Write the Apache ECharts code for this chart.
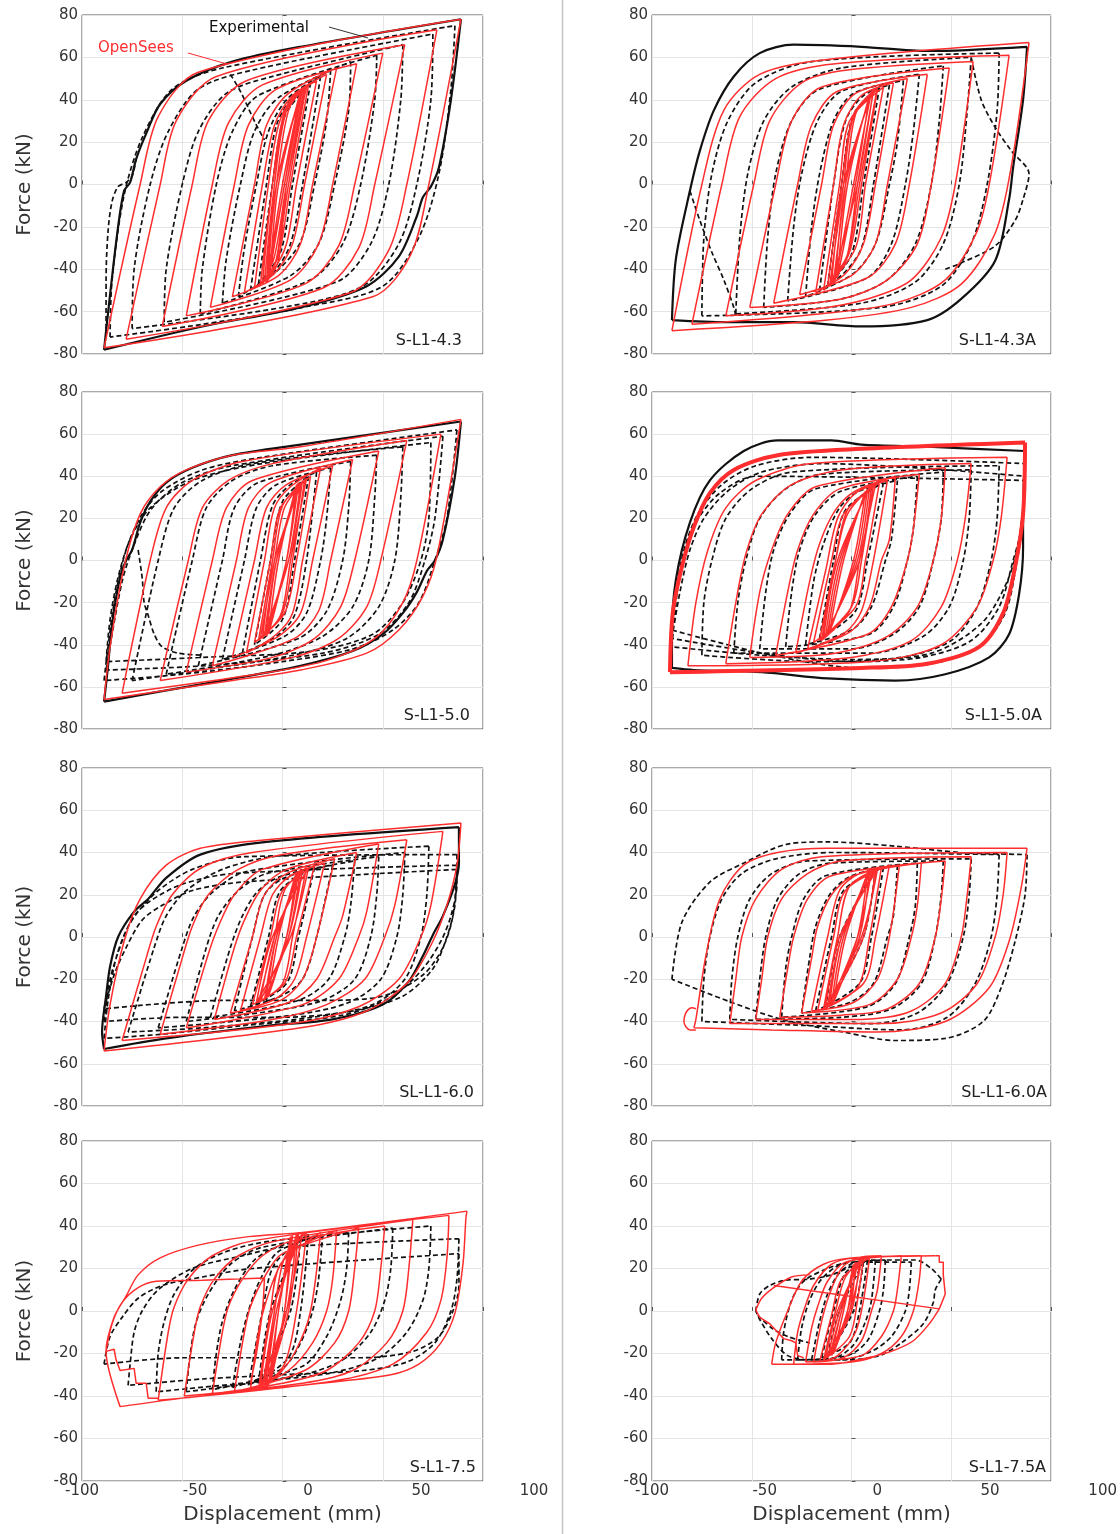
<!DOCTYPE html>
<html>
<head>
<meta charset="utf-8">
<script src="https://cdn.jsdelivr.net/npm/echarts@6/dist/echarts.min.js"></script>
<style>
html, body { margin: 0; padding: 0; background: #fff; }
#main { width: 1120px; height: 1534px; }
</style>
</head>
<body>
<div id="main"></div>
<script>
// panel titles, row by row (left, right)
const panelNames = ['S-L1-4.3', 'S-L1-4.3A', 'S-L1-5.0', 'S-L1-5.0A', 'SL-L1-6.0', 'SL-L1-6.0A', 'S-L1-7.5', 'S-L1-7.5A'];
const legendTexts = ['Experimental', 'OpenSees'];

// loops are [x (mm), F (kN)], starting at the left tip
// ---- S-L1-4.3
const p1Red = [
  [[-89,-77],[-71,0],[-62,32],[-42,53],[89,78],[73,0],[64,-33],[45,-53]],
  [[-78,-73],[-61,0],[-53,30],[-33,51],[77,73],[62,0],[53,-31],[34,-51]],
  [[-60,-67],[-45,0],[-37,30],[-18,49],[61,66],[46,0],[38,-30],[20,-49]],
  [[-48,-62],[-35,0],[-27,29],[-10,47],[50,62],[36,0],[28,-29],[11,-47]],
  [[-36,-58],[-24,0],[-17,28],[-3,45],[37,57],[25,0],[18,-28],[4,-45]],
  [[-25,-53],[-14,0],[-8,28],[3,43],[27,55],[15,0],[9,-28],[-2,-43]],
  [[-19,-51],[-10,0],[-4,28],[5,42],[22,52],[11,0],[5,-28],[-4,-42]],
  [[-14,-49],[-7,0],[-2,28],[5,41],[17,49],[7,0],[2,-28],[-5,-41]],
  [[-11,-47],[-5,0],[0,30],[5,40],[13,47],[4,0],[-1,-30],[-5,-40]],
  [[-10,-47],[-5,0],[1,34],[12,47],[2,0],[-4,-34]],
  [[-9,-46],[-4,0],[2,35],[12,47],[3,0],[-3,-35]],
  [[-8,-45],[-3,0],[3,35],[11,46],[2,0],[-3,-35]],
  [[-8,-46],[-4,0],[2,36],[12,46],[2,0],[-2,-36]],
  [[-7,-44],[-3,0],[10,45],[1,0]],
  [[-7,-42],[-3,0],[9,43],[0,0]],
  [[-6,-40],[-2,0],[9,44],[1,0]]
];
const p1ExpOuter = [[-89,-78],[-86,-52],[-82,-20],[-79,-3],[-76,1],[-73,12],[-68,24],[-61,38],[-48,49],[-25,58],[9,65],[89,78],[84,40],[78,8],[74,-1],[70,-6],[67,-15],[58,-34],[42,-48],[9,-58],[-40,-67]];
const p1Exp = [
  [[-86,-72],[-85,-45],[-79,-5],[-70,22],[-55,45],[-30,55],[86,75],[84,45],[78,5],[68,-25],[50,-48],[10,-58],[-40,-66]],
  [[-75,-68],[-74,-40],[-66,0],[-57,25],[-42,45],[-15,54],[75,71],[74,40],[67,0],[58,-28],[40,-48],[0,-58]],
  [[-59,-65],[-58,-40],[-50,0],[-42,25],[-28,43],[-5,51],[60,66],[59,40],[53,0],[44,-28],[27,-46]],
  [[-41,-61],[-40,-40],[-33,0],[-25,25],[-12,42],[47,61],[46,40],[39,0],[30,-28],[14,-45]],
  [[-30,-56],[-28,-35],[-21,0],[-14,25],[-2,41],[34,58],[33,35],[26,0],[18,-28],[4,-43]],
  [[-22,-53],[-19,-30],[-13,0],[-7,25],[3,41],[24,54],[22,30],[16,0],[9,-27],[-3,-41]],
  [[-16,-50],[-8,0],[-3,28],[5,41],[19,51],[10,0],[4,-28],[-4,-41]],
  [[-12,-47],[-5,0],[1,32],[14,48],[5,0],[-1,-32]]
];
const p1ExpCurves = [
  [[-88,-72],[-88,-45],[-87,-22],[-85,-8],[-82,-1],[-78,1],[-75,4],[-73,12]],
  [[-26,52],[-21,44],[-17,36],[-13,28],[-9,21]]
];

// ---- S-L1-4.3A
const p2Red = [
  [[-90,-69],[-75,0],[-64,35],[-46,52],[-12,59],[89,67],[80,8],[72,-23],[55,-47],[30,-58],[-12,-64]],
  [[-80,-66],[-65,0],[-56,32],[-38,50],[-8,57],[79,61],[70,5],[63,-22],[47,-45],[22,-56],[-15,-61]],
  [[-63,-62],[-49,0],[-41,30],[-25,48],[-2,54],[61,58],[52,0],[45,-25],[30,-45],[8,-54],[-20,-59]],
  [[-51,-58],[-38,0],[-30,30],[-15,46],[49,55],[40,0],[33,-28],[18,-45],[-5,-54]],
  [[-39,-56],[-27,0],[-20,28],[-7,44],[38,52],[29,0],[22,-28],[8,-44]],
  [[-26,-52],[-15,0],[-9,28],[2,43],[28,50],[18,0],[12,-28],[0,-43]],
  [[-18,-51],[-9,0],[-4,28],[5,42],[21,48],[12,0],[6,-28],[-3,-42]],
  [[-14,-50],[-6,0],[-1,30],[16,46],[7,0],[2,-30]],
  [[-12,-48],[-5,0],[1,33],[13,46],[4,0],[-2,-33]],
  [[-11,-48],[-4,0],[1,32],[13,45],[5,0],[-1,-32]],
  [[-10,-47],[-4,0],[11,45],[3,0]],
  [[-9,-46],[-3,0],[2,33],[11,44],[3,0],[-2,-33]],
  [[-8,-45],[-3,0],[10,44],[1,0]],
  [[-7,-44],[-2,0],[9,42],[2,0]]
];
const p2ExpOuter = [[-90,-64],[-88,-35],[-81,-3],[-76,16],[-69,35],[-59,51],[-46,62],[-29,66],[5,65],[38,63],[88,65],[86,40],[81,8],[79,-7],[72,-36],[55,-54],[38,-64],[5,-67],[-29,-65],[-63,-65]];
const p2Exp = [
  [[-75,-62],[-74,-25],[-70,5],[-62,30],[-48,48],[-20,58],[74,62],[73,35],[68,0],[60,-28],[45,-48],[15,-58]],
  [[-58,-61],[-56,-25],[-52,5],[-44,30],[-30,46],[-5,55],[60,60],[58,35],[54,0],[46,-28],[32,-46],[5,-56]],
  [[-44,-58],[-42,-25],[-38,5],[-30,30],[-16,45],[46,56],[44,30],[40,0],[32,-28],[18,-45],[-5,-54]],
  [[-32,-55],[-29,-20],[-25,5],[-17,30],[-5,44],[34,52],[31,25],[27,0],[20,-28],[8,-44]],
  [[-23,-53],[-20,-20],[-16,5],[-9,30],[1,43],[26,49],[23,20],[19,0],[12,-28],[1,-42]],
  [[-16,-50],[-9,0],[-3,30],[6,42],[19,47],[11,0],[5,-30],[-4,-42]],
  [[-12,-48],[-5,0],[1,33],[14,46],[6,0],[0,-33]]
];
const p2ExpCurves = [
  [[-81,-3],[-76,-17],[-70,-32],[-64,-45],[-59,-58],[-58,-62]],
  [[60,60],[65,40],[72,27],[80,16],[89,5],[86,-7],[82,-17],[72,-29],[55,-37],[47,-40]]
];

// ---- S-L1-5.0
const p3Red = [
  [[-89,-66],[-86,-41],[-79,-3],[-71,22],[-61,35],[-48,43],[-25,50],[9,54],[89,67],[77,2],[70,-17],[58,-33],[42,-44],[9,-52],[-25,-57]],
  [[-80,-63],[-66,0],[-58,25],[-45,38],[-20,47],[79,60],[67,0],[60,-20],[46,-37],[20,-48],[-20,-55]],
  [[-61,-57],[-47,0],[-40,25],[-27,38],[-5,46],[62,57],[49,0],[42,-22],[28,-37],[5,-46]],
  [[-48,-53],[-35,0],[-28,25],[-15,38],[48,52],[36,0],[29,-22],[16,-37],[-5,-46]],
  [[-35,-50],[-23,0],[-17,25],[-6,37],[35,48],[24,0],[18,-24],[6,-37]],
  [[-25,-46],[-14,0],[-8,25],[2,36],[25,45],[15,0],[9,-25],[-2,-36]],
  [[-18,-44],[-9,0],[-4,25],[4,35],[19,44],[10,0],[5,-25],[-3,-35]],
  [[-14,-39],[-6,0],[-1,25],[14,40],[7,0],[1,-25]],
  [[-12,-38],[-5,0],[0,26],[12,39],[4,0],[-1,-26]],
  [[-11,-37],[-4,0],[1,25],[11,38],[5,0],[0,-25]],
  [[-10,-37],[-4,0],[10,38],[3,0]],
  [[-9,-36],[-3,0],[9,37],[3,0]],
  [[-8,-36],[-3,0],[8,37],[2,0]],
  [[-7,-35],[-2,0],[7,36],[2,0]]
];
const p3ExpOuter = [[-89,-67],[-87,-50],[-85,-30],[-81,-8],[-78,0],[-75,5],[-71,18],[-66,28],[-58,37],[-45,44],[-25,50],[9,55],[89,66],[86,40],[80,10],[76,0],[72,-5],[67,-15],[60,-25],[50,-35],[35,-43],[9,-50],[-30,-57],[-60,-62]];
const p3Exp = [
  [[-89,-57],[-84,-20],[-78,5],[-70,22],[-60,33],[-40,43],[-10,49],[87,62],[82,20],[76,0],[68,-20],[55,-33],[35,-42],[0,-48],[-50,-54]],
  [[-88,-52],[-80,-10],[-73,10],[-65,25],[-50,37],[-25,45],[80,59],[76,20],[71,0],[63,-20],[48,-35],[20,-44],[-40,-50]],
  [[-88,-48],[-86,-28],[-82,-8],[-76,10],[-66,25],[-45,38],[-10,46],[74,56],[73,20],[69,0],[60,-20],[45,-35],[15,-43],[-40,-46]],
  [[-75,-57],[-62,0],[-54,25],[-40,38],[-15,46],[60,54],[59,30],[56,0],[48,-22],[32,-37],[5,-45],[-40,-52]],
  [[-58,-54],[-45,0],[-38,25],[-25,38],[-5,45],[47,50],[46,30],[43,0],[35,-22],[20,-36],[-5,-45]],
  [[-42,-50],[-30,0],[-24,25],[-12,37],[34,47],[33,25],[30,0],[22,-24],[8,-37]],
  [[-30,-47],[-19,0],[-13,25],[-3,36],[24,44],[22,20],[19,0],[12,-25],[1,-36]],
  [[-20,-44],[-11,0],[-5,26],[4,36],[17,42],[12,0],[6,-26],[-3,-36]],
  [[-14,-40],[-6,0],[0,28],[13,40],[6,0],[0,-28]]
];
const p3ExpCurves = [
  [[-72,5],[-70,-8],[-69,-20],[-67,-26],[-64,-35],[-60,-41],[-52,-44],[-40,-45]]
];

// ---- S-L1-5.0A
const p4RedOuter = [[-91,-53],[-89.6,-25],[-85,-3],[-79,16],[-71,32],[-59,43],[-37,50],[5,53],[87,56],[86,22],[82,-3],[76,-25],[64,-41],[38,-49],[5,-51]];
const p4Red = [
  [[-82,-50],[-78,-20],[-72,5],[-63,25],[-48,38],[-20,46],[78,49],[75,20],[71,0],[63,-22],[45,-40],[10,-48]],
  [[-63,-49],[-58,-20],[-53,3],[-45,22],[-30,36],[-5,43],[60,46],[57,20],[53,0],[45,-22],[30,-38],[0,-46]],
  [[-51,-46],[-46,-15],[-40,5],[-32,22],[-18,35],[47,44],[45,20],[41,0],[33,-22],[18,-36],[-8,-44]],
  [[-38,-45],[-32,-15],[-27,5],[-19,22],[-6,34],[34,41],[31,15],[28,0],[20,-22],[8,-35]],
  [[-28,-44],[-21,-10],[-16,8],[-8,24],[2,33],[22,40],[19,10],[15,0],[9,-22],[-1,-34]],
  [[-22,-42],[-13,-5],[-7,20],[2,32],[18,38],[11,0],[5,-24],[-3,-34]],
  [[-19,-39],[-10,0],[-4,22],[14,37],[7,0],[2,-22]],
  [[-16,-38],[-8,0],[-2,22],[11,36],[5,0],[0,-22]],
  [[-15,-38],[-8,0],[-2,24],[12,36],[4,0],[-1,-24]],
  [[-14,-37],[-7,0],[10,36],[4,0]],
  [[-13,-36],[-6,0],[9,35],[3,0]],
  [[-12,-35],[-5,0],[8,34],[2,0]],
  [[-11,-34],[-4,0],[7,33],[1,0]]
];
const p4ExpOuter = [[-90,-51],[-90,-35],[-88,-9],[-81,18],[-71,38],[-54,52],[-37,57],[-10,57],[5,55],[38,54],[87,52],[86,20],[86,6],[84,-16],[79,-35],[69,-46],[47,-54],[22,-57],[-12,-56],[-45,-53],[-79,-52]];
const p4Exp = [
  [[-90,-33],[-88,-15],[-84,5],[-77,22],[-65,36],[-48,45],[-20,49],[87,46],[86,20],[83,0],[77,-25],[64,-41],[40,-49],[5,-51],[-40,-45]],
  [[-90,-37],[-86,-15],[-81,5],[-74,20],[-62,33],[-45,42],[-15,46],[87,40],[85,15],[81,0],[74,-22],[60,-38],[35,-46],[0,-48],[-45,-44]],
  [[-90,-41],[-88,-20],[-85,0],[-78,18],[-66,32],[-48,40],[87,38],[84,10],[78,-10],[65,-30],[40,-44],[0,-47],[-45,-45]],
  [[-75,-45],[-74,-20],[-70,0],[-63,20],[-50,34],[-30,42],[74,45],[73,20],[70,0],[63,-22],[50,-38],[25,-46],[-20,-48]],
  [[-59,-44],[-57,-20],[-53,0],[-46,20],[-33,34],[-15,41],[60,43],[59,20],[56,0],[49,-22],[36,-36],[10,-44]],
  [[-46,-42],[-43,-15],[-39,5],[-31,22],[-18,34],[46,42],[45,20],[41,0],[34,-22],[21,-35],[0,-42]],
  [[-33,-41],[-30,-15],[-26,5],[-18,22],[-5,33],[33,40],[31,15],[28,0],[21,-22],[9,-35]],
  [[-23,-40],[-19,-10],[-14,8],[-6,25],[4,33],[23,38],[20,10],[17,0],[10,-22],[0,-33]],
  [[-16,-37],[-9,0],[-3,24],[16,37],[8,0],[2,-24]]
];

// ---- SL-L1-6.0
const p5Red = [
  [[-89,-54],[-86,-32],[-79,-2],[-71,18],[-58,34],[-41,42],[-8,46],[89,54],[87,34],[82,15],[75,-2],[63,-21],[42,-35],[9,-43]],
  [[-80,-49],[-68,-10],[-63,5],[-55,20],[-40,33],[-15,40],[80,50],[74,15],[69,0],[58,-20],[38,-33],[5,-41]],
  [[-61,-46],[-50,-10],[-45,5],[-37,20],[-22,32],[0,39],[62,46],[56,15],[51,0],[41,-20],[22,-32],[-5,-39]],
  [[-48,-43],[-37,-8],[-32,5],[-24,20],[-10,32],[48,44],[42,12],[38,0],[28,-20],[10,-32]],
  [[-34,-39],[-24,-5],[-19,8],[-11,22],[2,32],[37,40],[30,10],[26,0],[17,-20],[3,-31]],
  [[-26,-36],[-15,0],[-9,20],[2,30],[26,37],[17,0],[10,-20],[-1,-30]],
  [[-21,-35],[-11,0],[-5,20],[4,29],[21,35],[12,0],[6,-20],[-3,-29]],
  [[-15,-32],[-6,0],[0,22],[16,34],[7,0],[1,-22]],
  [[-13,-31],[-5,0],[13,33],[4,0]],
  [[-12,-31],[-4,0],[1,22],[12,33],[5,0],[0,-22]],
  [[-11,-30],[-4,0],[10,32],[3,0]],
  [[-9,-30],[-3,0],[9,32],[3,0]],
  [[-8,-29],[-3,0],[8,31],[2,0]],
  [[-7,-28],[-2,0],[7,31],[2,0]]
];
const p5ExpOuter = [[-89,-53],[-90,-45],[-88,-28],[-86,-14],[-82,0],[-74,12],[-67,18],[-58,28],[-41,39],[-8,45],[88,52],[88,35],[86,25],[80,10],[75,1],[70,-9],[63,-21],[50,-32],[25,-39],[-8,-42],[-58,-48]];
const p5Exp = [
  [[-89,-48],[-87,-30],[-83,-10],[-78,3],[-72,12],[-62,22],[-45,32],[-20,38],[87,39],[87,25],[84,10],[79,-2],[70,-15],[55,-28],[30,-37],[-20,-42],[-60,-46]],
  [[-89,-40],[-86,-20],[-80,-2],[-74,10],[-66,17],[-50,25],[-25,30],[87,34],[86,15],[82,0],[75,-15],[60,-28],[35,-35],[0,-38],[-50,-38]],
  [[-89,-34],[-84,-18],[-78,-5],[-70,8],[-60,15],[-45,22],[-20,26],[87,32],[85,10],[80,-5],[70,-18],[50,-28],[20,-30],[-30,-30]],
  [[-77,-45],[-64,-5],[-58,10],[-48,22],[-30,32],[-5,38],[73,43],[72,20],[69,0],[61,-20],[45,-32],[15,-38],[-40,-43]],
  [[-62,-43],[-50,-5],[-44,10],[-34,22],[-18,31],[61,40],[60,20],[57,0],[49,-20],[33,-31],[5,-37]],
  [[-48,-40],[-38,-5],[-32,10],[-22,22],[-8,30],[48,38],[47,20],[44,0],[36,-20],[20,-30],[-5,-35]],
  [[-36,-38],[-26,-5],[-20,10],[-12,22],[0,29],[36,36],[34,15],[31,0],[23,-20],[8,-30]],
  [[-24,-35],[-15,0],[-9,20],[1,28],[25,34],[17,0],[10,-20],[-1,-28]],
  [[-16,-33],[-7,0],[-1,22],[16,33],[8,0],[2,-22]]
];

// ---- SL-L1-6.0A
const p6Red = [
  [[-79,-43],[-78,-39],[-73,-9],[-66,18],[-54,34],[-37,40],[-12,42],[88,42],[85,23],[79,-2],[69,-24],[47,-40],[13,-45],[-40,-44]],
  [[-61,-41],[-58,-20],[-55,0],[-48,18],[-35,32],[-15,38],[78,40],[76,20],[72,0],[63,-22],[45,-36],[15,-41]],
  [[-48,-39],[-45,-20],[-42,0],[-35,18],[-22,30],[-5,36],[60,38],[58,20],[55,0],[47,-22],[30,-35],[5,-39]],
  [[-36,-38],[-32,-15],[-29,0],[-22,18],[-10,29],[47,36],[45,18],[42,0],[34,-22],[18,-34],[-5,-37]],
  [[-25,-36],[-20,-10],[-17,5],[-10,20],[1,29],[35,35],[33,15],[30,0],[23,-20],[9,-32]],
  [[-20,-35],[-12,0],[-6,22],[4,30],[24,34],[19,0],[13,-20],[1,-31]],
  [[-17,-35],[-9,0],[-3,22],[19,34],[12,0],[6,-22]],
  [[-14,-34],[-7,0],[-1,24],[15,33],[9,0],[3,-24]],
  [[-13,-33],[-6,0],[13,32],[5,0]],
  [[-12,-33],[-5,0],[12,32],[6,0]],
  [[-11,-32],[-5,0],[10,31],[3,0]],
  [[-10,-32],[-4,0],[9,31],[4,0]],
  [[-9,-31],[-3,0],[8,30],[3,0]]
];
const p6RedCurves = [
  [[-78,-44],[-81,-44],[-83,-42.5],[-84,-40],[-83.5,-37],[-82,-34.5],[-80,-33.5],[-78,-34]]
];
const p6Exp = [
  [[-90,-20],[-85,7],[-71,26],[-54,35],[-32,44],[-12,45],[22,43],[55,40],[88,39],[87,20],[82,-2],[75,-24],[66,-40],[47,-48],[22,-49],[-4,-45],[-35,-39],[-60,-31]],
  [[-75,-40],[-74,-20],[-71,0],[-65,18],[-55,30],[-38,37],[-10,40],[74,39],[73,20],[70,0],[62,-22],[48,-38],[25,-44],[-20,-42]],
  [[-61,-39],[-60,-20],[-57,0],[-51,18],[-40,30],[-22,36],[60,37],[59,20],[56,0],[48,-22],[33,-36],[10,-41]],
  [[-48,-39],[-46,-20],[-43,0],[-37,18],[-26,30],[-10,35],[46,36],[45,20],[42,0],[35,-22],[20,-34],[-5,-38]],
  [[-35,-38],[-33,-15],[-30,0],[-24,18],[-13,29],[33,35],[32,15],[29,0],[22,-22],[8,-33]],
  [[-25,-36],[-21,-10],[-18,5],[-11,20],[0,29],[23,34],[21,10],[18,0],[11,-22],[-1,-31]],
  [[-18,-35],[-10,0],[-4,22],[16,33],[10,0],[4,-22]],
  [[-13,-34],[-6,0],[12,32],[6,0]]
];

// ---- S-L1-7.5
const p7Red = [
  [[-81,-45],[-88,-19],[-84,-3],[-78,7],[-72,17],[-61,25],[-42,31],[-17,35],[10,37],[92,47],[91.5,44],[90,22],[86,-1],[79,-15],[68,-25],[54,-30],[19,-34],[-20,-38],[-50,-41]],
  [[-62,-42],[-57,-10],[-54,2],[-47,15],[-35,26],[-15,33],[83,45],[82,25],[79,5],[72,-10],[55,-25],[25,-33]],
  [[-49,-40],[-44,-10],[-41,2],[-34,15],[-22,26],[-3,33],[65,43],[63,20],[60,0],[52,-15],[35,-28],[10,-34]],
  [[-35,-39],[-30,-10],[-27,2],[-20,15],[-10,26],[5,33],[51,40],[49,20],[46,0],[38,-15],[22,-28],[0,-34]],
  [[-24,-38],[-19,-10],[-16,2],[-9,16],[0,27],[38,39],[36,20],[33,0],[26,-15],[11,-28]],
  [[-16,-37],[-12,-10],[-9,2],[-3,18],[4,28],[27,38],[25,15],[22,0],[15,-15],[3,-28]],
  [[-12,-37],[-6,0],[-1,22],[19,37],[14,0],[7,-18],[-2,-30]],
  [[-11,-36],[-5,0],[10,37],[2,0]],
  [[-10,-36],[-4,0],[1,25],[12,37],[7,0],[1,-25]],
  [[-9,-35],[-3,0],[7,36],[2,0]],
  [[-8,-36],[-3,0],[8,37],[3,0]],
  [[-7,-35],[-2,0],[5,36],[1,0]],
  [[-6,-34],[-2,0],[4,35],[1,0]]
];
const p7RedCurves = [
  [[-88,-19],[-85,-6],[-80,4],[-72,11],[-63,14],[-40,14.5],[-9,15.5]],
  [[-9,15.5],[-10,0],[-13,-20],[-16,-34]]
];
const p7RedSteps = [
  [[-88,-19],[-84,-18],[-83,-23],[-81,-28],[-74,-27],[-73,-34],[-68,-34],[-67,-41],[-62,-41]]
];
const p7Exp = [
  [[-89,-25],[-86,-12],[-80,-3],[-72,6],[-60,12],[-40,16],[-15,20],[88,27],[88,12],[85,0],[78,-12],[65,-19],[40,-22],[0,-22],[-50,-22]],
  [[-77,-35],[-76,-25],[-74,-10],[-70,0],[-62,10],[-45,20],[-20,26],[0,30],[88,34],[87,15],[84,0],[76,-15],[62,-24],[40,-28],[0,-30],[-40,-32]],
  [[-63,-38],[-62,-20],[-59,-5],[-54,8],[-44,20],[-28,28],[-5,33],[74,40],[73,20],[70,5],[62,-10],[48,-22],[25,-29],[-10,-33]],
  [[-48,-38],[-46,-20],[-43,-5],[-37,8],[-26,22],[-10,30],[55,39],[54,20],[51,5],[44,-10],[30,-23],[10,-30]],
  [[-35,-37],[-33,-20],[-30,-5],[-24,10],[-14,24],[0,31],[33,37],[32,20],[29,5],[22,-12],[10,-26]],
  [[-25,-36],[-21,-15],[-17,0],[-11,15],[-2,28],[20,36],[18,15],[15,0],[9,-15],[0,-27]],
  [[-17,-35],[-10,0],[-4,22],[13,36],[9,0],[3,-22]],
  [[-12,-34],[-6,0],[9,35],[4,0]]
];

// ---- S-L1-7.5A
const p8Red = [
  [[-29,-25],[-27,-10],[-24,0],[-19,12],[-10,22],[2,25],[35,26],[34,15],[31,0],[25,-12],[15,-20],[0,-24]],
  [[-23,-24],[-20,-8],[-17,2],[-12,14],[-3,23],[25,26],[23,10],[21,0],[15,-12],[5,-21]],
  [[-19,-24],[-15,-5],[-11,8],[-5,20],[3,25],[15,26],[13,10],[10,0],[5,-14],[-4,-22]],
  [[-16,-24],[-10,-2],[-5,15],[9,25],[6,5],[2,-10],[-7,-21]],
  [[-14,-23],[-8,0],[-3,16],[6,25],[3,5],[-1,-12]],
  [[-13,-22],[-7,0],[5,24],[-1,0]],
  [[-12,-22],[-6,0],[4,24],[0,0]],
  [[-11,-21],[-5,0],[2,23],[-1,0]],
  [[-10,-21],[-5,0],[3,23],[-2,0]],
  [[-9,-20],[-4,0],[1,22],[-2,0]]
];
const p8RedCurves = [
  [[-40,-25],[-38,-15],[-32,0],[-25,14],[-14,22],[0,25],[42,26]],
  [[44,1],[39,-6],[31,-14],[20,-19],[8,-22],[-10,-25],[-40,-25]],
  [[-21,17],[-30,16],[-39,11],[-45,6],[-48,0.5]]
];
const p8RedSteps = [
  [[42,26],[44,26],[44,23],[46,23],[46,17],[47,17],[47,8],[44,1]],
  [[44,1],[-39,12]],
  [[-48,0.5],[-46,-3],[-41,-6],[-37,-10],[-34,-13],[-30,-14],[-28,-15],[-27,-21],[-24,-22]]
];
const p8Exp = [
  [[-48,0],[-46,8],[-41,12],[-33,14.5],[-21,15],[-10,17],[0,21],[11,24],[32,24],[40,20],[45,15],[42,10],[41,4],[36,-6],[25,-15],[14,-21],[-3,-23],[-21,-23],[-32,-21],[-40,-13],[-46,-4]],
  [[-35,-23],[-34,-10],[-30,5],[-24,14],[-12,20],[0,23],[30,23],[29,10],[27,0],[20,-12],[10,-19],[-5,-23]],
  [[-27,-23],[-25,-8],[-21,5],[-15,15],[-5,22],[17,24],[16,10],[14,0],[8,-14],[-2,-21]],
  [[-20,-23],[-16,-5],[-12,8],[-6,18],[2,23],[12,24],[10,5],[7,-5],[1,-16],[-8,-22]],
  [[-15,-22],[-9,0],[-3,18],[8,24],[4,0],[-1,-15]],
  [[-12,-21],[-6,0],[6,23],[1,0]]
];
const p8ExpCurves = [
  [[-47,-2],[-40,-8],[-32,-12],[-21,-15]]
];

const panels = [
  { red: p1Red, expOuter: p1ExpOuter, exp: p1Exp, expCurves: p1ExpCurves },
  { red: p2Red, expOuter: p2ExpOuter, exp: p2Exp, expCurves: p2ExpCurves },
  { red: p3Red, expOuter: p3ExpOuter, exp: p3Exp, expCurves: p3ExpCurves },
  { red: p4Red, redOuter: p4RedOuter, expOuter: p4ExpOuter, exp: p4Exp },
  { red: p5Red, expOuter: p5ExpOuter, exp: p5Exp },
  { red: p6Red, redCurves: p6RedCurves, exp: p6Exp },
  { red: p7Red, redCurves: p7RedCurves, redSteps: p7RedSteps, exp: p7Exp },
  { red: p8Red, redCurves: p8RedCurves, redSteps: p8RedSteps, exp: p8Exp, expCurves: p8ExpCurves }
];

// layout of the 4 x 2 panels (px)
const colLeft = [82, 652];
const colWidth = [401, 399];
const rowTop = [15, 392, 768, 1141];
const rowHeight = [339, 337, 338, 340];
const nameInset = [21, 15, 13, 9, 9, 4, 7, 5];
const labelScaleWidth = [452, 458];

const FONT = 'DejaVu Sans';
const RED = '#ff2d2d';
const GAP = ['-', '-'];

// a loop is split at its right tip so both tips stay sharp
function loopPath(loops) {
  var out = [];
  (loops || []).forEach(function (lp) {
    var k = 0;
    for (var i = 1; i < lp.length; i++) {
      if (lp[i][0] > lp[k][0]) k = i;
    }
    out.push.apply(out, lp.slice(0, k + 1));
    out.push(GAP);
    out.push.apply(out, lp.slice(k));
    out.push(lp[0], GAP);
  });
  return out;
}

function openPath(lines) {
  var out = [];
  (lines || []).forEach(function (ln) {
    out.push.apply(out, ln);
    out.push(GAP);
  });
  return out;
}

function lineSeries(i, data, color, width, type, smooth, z) {
  return {
    type: 'line', xAxisIndex: i, yAxisIndex: i, data: data,
    showSymbol: false, symbol: 'none', smooth: smooth, connectNulls: false,
    lineStyle: { color: color, width: width, type: type },
    silent: true, z: z, animation: false
  };
}

var dom = document.getElementById('main');
var myChart = echarts.init(dom, null, { renderer: 'canvas' });

var grids = [], xAxes = [], yAxes = [], series = [], graphics = [];

panels.forEach(function (p, i) {
  var c = i % 2, r = Math.floor(i / 2);
  grids.push({
    left: colLeft[c], top: rowTop[r], width: colWidth[c], height: rowHeight[r],
    show: true, borderColor: '#555', borderWidth: 1, backgroundColor: 'transparent'
  });
  xAxes.push({
    gridIndex: i, type: 'value', min: -100, max: 100, interval: 50,
    axisLine: { show: false },
    axisTick: { show: true, inside: true, length: 4, lineStyle: { color: '#555' } },
    axisLabel: { show: false },
    splitLine: { show: true, lineStyle: { color: '#e4e4e4', width: 1 } },
    name: r === 3 ? 'Displacement (mm)' : '',
    nameLocation: 'middle', nameGap: 24,
    nameTextStyle: { fontFamily: FONT, fontSize: 20, color: '#333' }
  });
  yAxes.push({
    gridIndex: i, type: 'value', min: -80, max: 80, interval: 20,
    axisLine: { show: false },
    axisTick: { show: true, inside: true, length: 4, lineStyle: { color: '#555' } },
    axisLabel: { fontFamily: FONT, fontSize: 15, color: '#333', margin: 4 },
    splitLine: { show: true, lineStyle: { color: '#e4e4e4', width: 1 } },
    name: c === 0 ? 'Force (kN)' : '',
    nameLocation: 'middle', nameGap: 47,
    nameTextStyle: { fontFamily: FONT, fontSize: 20, color: '#333' }
  });

  if (p.expOuter) series.push(lineSeries(i, loopPath([p.expOuter]), '#111', 2.2, 'solid', 0.3, 2));
  series.push(lineSeries(i, loopPath(p.exp).concat(openPath(p.expCurves)), '#111', 1.7, [5, 3], 0.3, 3));
  if (p.redOuter) series.push(lineSeries(i, loopPath([p.redOuter]), RED, 4, 'solid', 0.3, 4));
  series.push(lineSeries(i, loopPath(p.red).concat(openPath(p.redCurves)), RED, 1.5, 'solid', 0.3, 5));
  if (p.redSteps) series.push(lineSeries(i, openPath(p.redSteps), RED, 1.5, 'solid', false, 5));

  graphics.push({
    type: 'text', z: 10,
    x: colLeft[c] + colWidth[c] - nameInset[i], y: rowTop[r] + rowHeight[r] - 13,
    style: { text: panelNames[i], fontFamily: FONT, fontSize: 16, fill: '#222', align: 'right', verticalAlign: 'middle' }
  });
});

// tick labels of the bottom row sit on their own (wider) scale
[0, 1].forEach(function (c) {
  var g = grids.length;
  grids.push({ left: colLeft[c], top: rowTop[3], width: labelScaleWidth[c], height: rowHeight[3], show: false });
  xAxes.push({
    gridIndex: g, type: 'value', min: -100, max: 100, interval: 50,
    axisLine: { show: false }, axisTick: { show: false }, splitLine: { show: false },
    axisLabel: { fontFamily: FONT, fontSize: 15, color: '#333', margin: 3, showMinLabel: true, showMaxLabel: true }
  });
  yAxes.push({ gridIndex: g, type: 'value', min: -80, max: 80, show: false });
});

// column separator and legend notes of the first panel
graphics.push(
  { type: 'line', z: 10, shape: { x1: 562.5, y1: 0, x2: 562.5, y2: 1534 }, style: { stroke: '#c4c4c4', lineWidth: 1.5 } },
  { type: 'text', z: 10, x: 209, y: 28, style: { text: legendTexts[0], fontFamily: FONT, fontSize: 15, fill: '#111', align: 'left', verticalAlign: 'middle' } },
  { type: 'line', z: 10, shape: { x1: 329, y1: 27, x2: 368, y2: 38 }, style: { stroke: '#333', lineWidth: 1 } },
  { type: 'text', z: 10, x: 98, y: 48, style: { text: legendTexts[1], fontFamily: FONT, fontSize: 15, fill: RED, align: 'left', verticalAlign: 'middle' } },
  { type: 'line', z: 10, shape: { x1: 188, y1: 53, x2: 227, y2: 64 }, style: { stroke: RED, lineWidth: 1 } }
);

var option = {
  animation: false,
  backgroundColor: '#fff',
  grid: grids,
  xAxis: xAxes,
  yAxis: yAxes,
  series: series,
  graphic: graphics
};

if (option && typeof option === 'object') {
  myChart.setOption(option);
}

window.addEventListener('resize', myChart.resize);
</script>
</body>
</html>
